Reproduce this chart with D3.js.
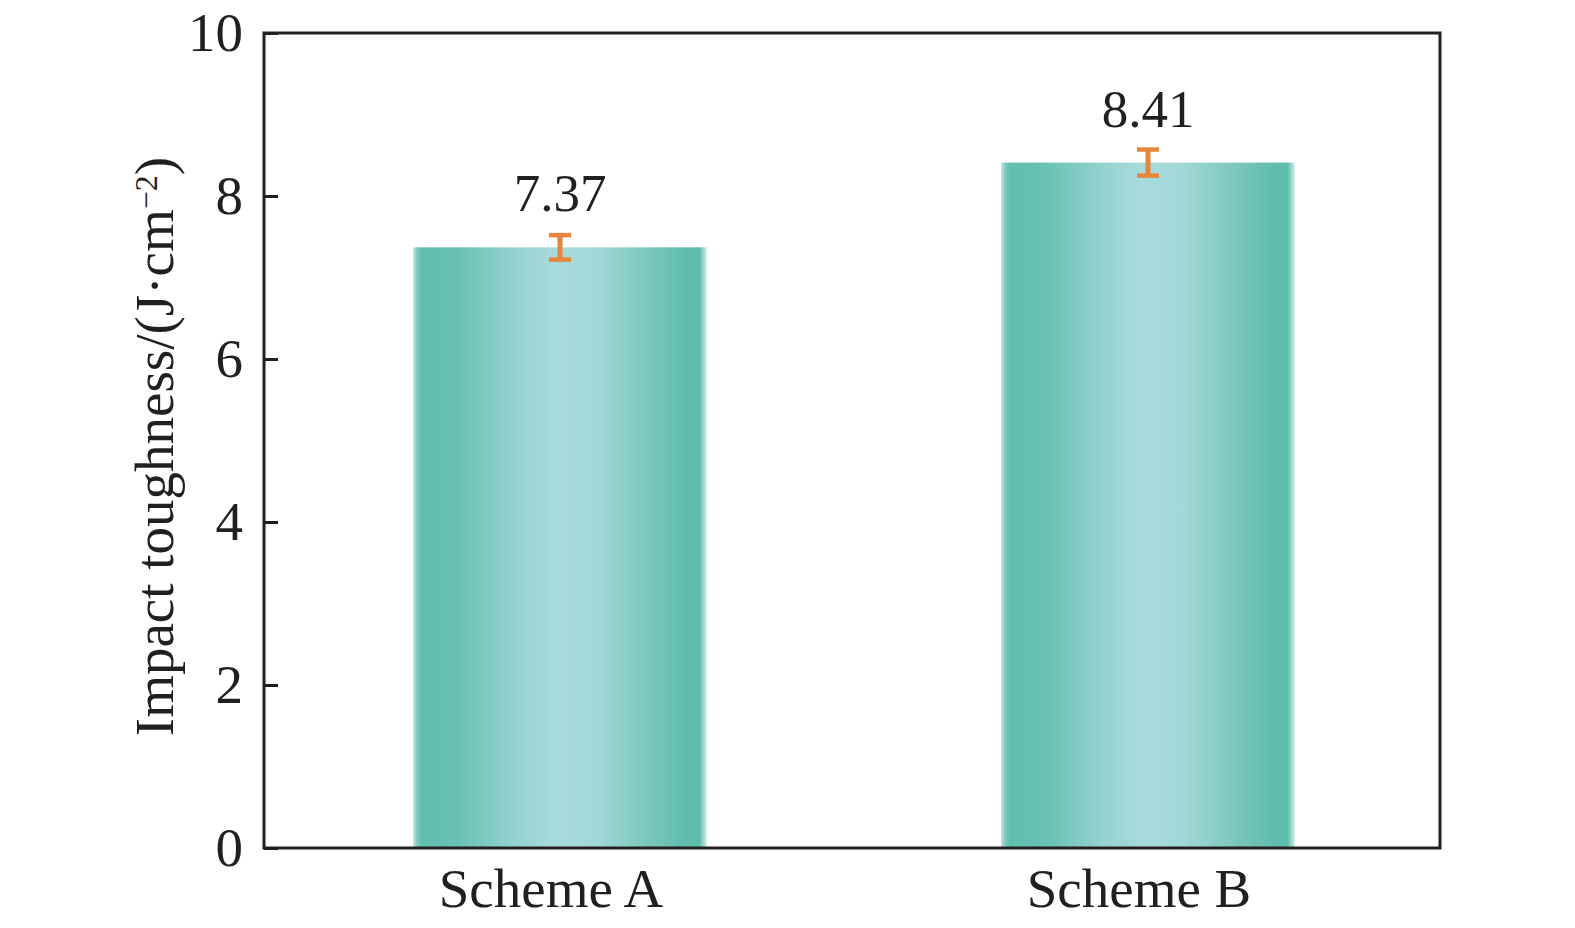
<!DOCTYPE html>
<html>
<head>
<meta charset="utf-8">
<script src="https://cdn.jsdelivr.net/npm/d3@7"></script>
<style>
  html, body { margin: 0; padding: 0; background: #fff; overflow: hidden; }
  svg { display: block; }
  text { font-family: "Liberation Serif", "Times New Roman", serif; fill: #231f20; }
</style>
</head>
<body>
<div id="chart"></div>
<script>
const width = 1575
const height = 928
const margin = { top: 33, bottom: 80, left: 264, right: 135 }

// Datos
const schemes = ["Scheme A", "Scheme B"]
const toughness = [7.37, 8.41]
const errors = [0.15, 0.16]
const yTicks = [0, 2, 4, 6, 8, 10]

const innerW = width - margin.left - margin.right
const innerH = height - margin.top - margin.bottom

const svg = d3.select("#chart").append("svg")
  .attr("width", width)
  .attr("height", height)

// Degradado de las barras
const grad = svg.append("defs").append("linearGradient")
  .attr("id", "barGrad")
  .attr("x1", "0%").attr("x2", "100%").attr("y1", "0%").attr("y2", "0%")
const stops = [
  [0, "#c4e8e2"], [0.015, "#7ccbbd"], [0.03, "#60bead"], [0.15, "#68c1b3"],
  [0.35, "#95d2d0"], [0.48, "#a8dbdc"], [0.62, "#a3d8d8"], [0.8, "#7ac7bb"],
  [0.93, "#5fbcac"], [0.975, "#5ebcab"], [0.99, "#a6dcd3"], [1, "#dff2ee"]
]
grad.selectAll("stop").data(stops).enter().append("stop")
  .attr("offset", d => d[0])
  .attr("stop-color", d => d[1])

const g = svg.append("g")
  .attr("transform", `translate(${margin.left}, ${margin.top})`)

// Escalas
const x = d3.scaleBand().domain(schemes).range([0, innerW]).paddingInner(0.5).paddingOuter(0.25)
const y = d3.scaleLinear().domain([0, 10]).range([innerH, 0])

// Barras
g.selectAll("rect.bar").data(schemes).enter().append("rect")
  .attr("class", "bar")
  .attr("x", d => x(d) + 2)
  .attr("width", x.bandwidth())
  .attr("y", (d, i) => y(toughness[i]))
  .attr("height", (d, i) => innerH - y(toughness[i]))
  .attr("fill", "url(#barGrad)")

// Barras de error
const eb = g.selectAll("g.err").data(schemes).enter().append("g")
  .attr("class", "err")
  .attr("transform", d => `translate(${x(d) + 2 + x.bandwidth() / 2}, 0)`)
eb.append("line")
  .attr("y1", (d, i) => y(toughness[i] + errors[i]))
  .attr("y2", (d, i) => y(toughness[i] - errors[i]))
  .attr("stroke", "#e8853d").attr("stroke-width", 5)
eb.selectAll("line.cap").data((d, i) => [toughness[i] + errors[i], toughness[i] - errors[i]])
  .enter().append("line")
  .attr("class", "cap")
  .attr("x1", -11).attr("x2", 11)
  .attr("y1", v => y(v)).attr("y2", v => y(v))
  .attr("stroke", "#e8853d").attr("stroke-width", 4.5)

// Etiquetas de valor
g.selectAll("text.val").data(schemes).enter().append("text")
  .attr("class", "val")
  .attr("x", d => x(d) + 2 + x.bandwidth() / 2)
  .attr("y", (d, i) => y(toughness[i]) - 36)
  .attr("text-anchor", "middle")
  .style("font-size", "53px")
  .text((d, i) => toughness[i].toFixed(2))

// Ejes
const yAxis = d3.axisLeft(y).tickValues(yTicks).tickSize(-14).tickPadding(21).tickFormat(d3.format("d"))
const yAxisGroup = g.append("g").call(yAxis)
yAxisGroup.select(".domain").remove()
yAxisGroup.selectAll(".tick line").attr("stroke", "#231f20").attr("stroke-width", 3)
yAxisGroup.selectAll(".tick text").style("font-size", "55px").attr("fill", "#231f20")
  .style("font-family", "'Liberation Serif', serif")

const xAxis = d3.axisBottom(x).tickSize(0).tickPadding(20)
const xAxisGroup = g.append("g").attr("transform", `translate(0, ${innerH})`).call(xAxis)
xAxisGroup.select(".domain").remove()
xAxisGroup.selectAll(".tick text").style("font-size", "55px").attr("fill", "#231f20")
  .style("font-family", "'Liberation Serif', serif")
  .attr("dx", -7)

// Marco
g.append("rect")
  .attr("width", innerW).attr("height", innerH)
  .attr("fill", "none").attr("stroke", "#231f20").attr("stroke-width", 3)

// Título del eje Y
svg.append("text")
  .attr("transform", `translate(173, ${margin.top + innerH / 2 + 6}) rotate(-90)`)
  .attr("text-anchor", "middle")
  .style("font-size", "55px")
  .text("Impact toughness/(J·cm")
  .append("tspan").attr("dy", -16).style("font-size", "32px").text("−2")
  .select(function () { return this.parentNode })
  .append("tspan").attr("dy", 16).text(")")
</script>
</body>
</html>
